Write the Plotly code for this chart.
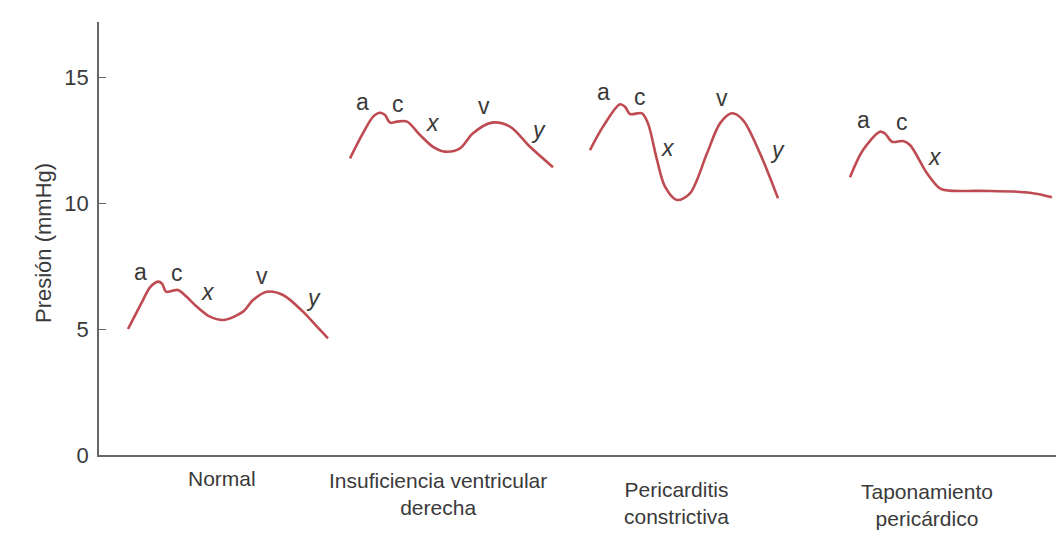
import plotly.graph_objects as go

# ---- data (time offsets in arbitrary units, pressure in mmHg) ----
normal_t = [29, 44, 51, 59, 63, 67, 72, 79, 87, 98, 111, 125, 144, 154, 168, 184, 204, 218, 229]
normal_p = [5.0, 6.15, 6.65, 6.88, 6.8, 6.48, 6.5, 6.55, 6.3, 5.88, 5.49, 5.36, 5.69, 6.15, 6.48, 6.35, 5.69, 5.09, 4.63]

ivd_t = [251, 264, 274, 281, 286, 291, 298, 308, 321, 334, 346, 361, 374, 393, 411, 431, 454]
ivd_p = [11.77, 12.77, 13.42, 13.58, 13.49, 13.19, 13.23, 13.23, 12.7, 12.23, 12.04, 12.17, 12.77, 13.19, 13.03, 12.23, 11.42]

peric_t = [491, 504, 521, 526, 531, 543, 549, 558, 566, 578, 591, 608, 621, 633, 644, 661, 679]
peric_p = [12.1, 13.03, 13.92, 13.82, 13.53, 13.56, 13.16, 11.71, 10.65, 10.12, 10.38, 11.97, 13.16, 13.56, 13.29, 11.97, 10.19]

tapon_t = [751, 764, 781, 786, 793, 804, 811, 828, 841, 851, 881, 931, 953]
tapon_p = [11.02, 12.1, 12.83, 12.76, 12.43, 12.46, 12.3, 11.18, 10.58, 10.49, 10.48, 10.41, 10.23]

# wave labels: (text, time, pressure)
wave_labels = [
    ("a", 41, 7.27), ("c", 78, 7.22), ("<i>x</i>", 109, 6.48), ("v", 163, 7.1), ("<i>y</i>", 214, 6.23),
    ("a", 263, 14.02), ("c", 299, 13.93), ("<i>x</i>", 334, 13.16), ("v", 385, 13.85), ("<i>y</i>", 439, 12.9),
    ("a", 504, 14.42), ("c", 541, 14.22), ("<i>x</i>", 569, 12.17), ("v", 623, 14.15), ("<i>y</i>", 678, 12.1),
    ("a", 764, 13.29), ("c", 803, 13.23), ("<i>x</i>", 836, 11.84),
]

categories = ["Normal", "Insuficiencia ventricular<br>derecha", "Pericarditis<br>constrictiva", "Taponamiento<br>pericárdico"]
category_t = [123, 339, 577, 828]
category_ypx = [478, 494, 503, 505]

y_ticks = [0, 5, 10, 15]

# ---- figure (page has an 8px body margin, so the figure is 8px smaller) ----
OFF = 8
W, H = 1064 - OFF, 534 - OFF
ML, MR, MT, MB = 99 - OFF, 0, 22 - OFF, 534 - 455
plot_h = H - MT - MB
plot_w = W - ML - MR

def px_to_paper_y(py):
    return (455 - py) / plot_h

def px_to_paper_x(px):
    return (px - 99) / plot_w

curve_color = "#bf4b52"
text_color = "#3a3a3a"
axis_color = "#666666"
font_family = "Liberation Sans, Arial, sans-serif"

fig = go.Figure()
for t, p in [(normal_t, normal_p), (ivd_t, ivd_p), (peric_t, peric_p), (tapon_t, tapon_p)]:
    fig.add_trace(go.Scatter(
        x=t, y=p, mode="lines",
        line=dict(color=curve_color, width=2.6, shape="spline", smoothing=0.9),
        hoverinfo="skip", showlegend=False,
    ))

annotations = []
for txt, t, p in wave_labels:
    annotations.append(dict(
        x=t, y=p, xref="x", yref="y", text=txt, showarrow=False,
        font=dict(size=23, color=text_color, family=font_family),
        xanchor="center", yanchor="middle",
    ))

for cat, t, ypx in zip(categories, category_t, category_ypx):
    annotations.append(dict(
        x=t, y=px_to_paper_y(ypx), xref="x", yref="paper", text=cat, showarrow=False,
        font=dict(size=21, color=text_color, family=font_family),
        xanchor="center", yanchor="middle", align="center", borderpad=0,
    ))

annotations.append(dict(
    x=px_to_paper_x(43), y=px_to_paper_y(243), xref="paper", yref="paper",
    text="Presión (mmHg)", showarrow=False, textangle=-90,
    font=dict(size=22, color=text_color, family=font_family),
    xanchor="center", yanchor="middle",
))

fig.update_layout(
    width=W, height=H,
    margin=dict(l=ML, r=MR, t=MT, b=MB, pad=0),
    paper_bgcolor="#ffffff", plot_bgcolor="#ffffff",
    annotations=annotations,
    showlegend=False,
    xaxis=dict(
        range=[0, plot_w], showgrid=False, zeroline=False,
        showline=True, linecolor=axis_color, linewidth=1.6,
        showticklabels=False, ticks="",
    ),
    yaxis=dict(
        range=[0, plot_h / 25.2], showgrid=False, zeroline=False,
        showline=True, linecolor=axis_color, linewidth=1.6,
        tickvals=y_ticks, ticktext=[str(v) for v in y_ticks],
        ticks="inside", ticklen=7, tickwidth=1.4, tickcolor=axis_color,
        tickfont=dict(size=22, color=text_color, family=font_family),
        ticklabelstandoff=4,
    ),
)

fig.write_html("out.html")
